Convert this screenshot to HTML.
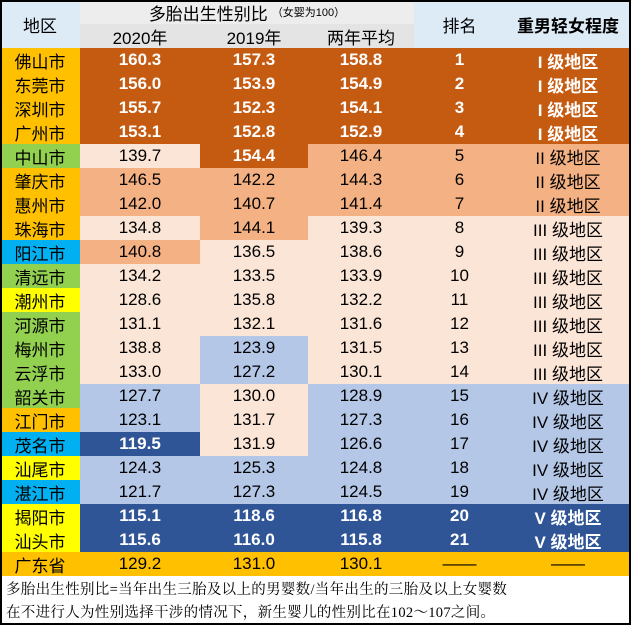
<!DOCTYPE html>
<html><head><meta charset="utf-8">
<style>
html,body{margin:0;padding:0;}
body{width:631px;height:625px;position:relative;overflow:hidden;background:#fff;font-family:"Liberation Sans","Noto Sans CJK SC",sans-serif;}
.c{position:absolute;display:flex;align-items:center;justify-content:center;font-size:17px;color:#000;box-sizing:border-box;white-space:nowrap;}
.w{color:#fff;font-weight:bold;}
#frame{position:absolute;left:0;top:0;width:631px;height:625px;border:2px solid #000;box-sizing:border-box;pointer-events:none;}
.foot{position:absolute;left:6px;font-family:"Liberation Serif","Noto Serif CJK SC",serif;font-size:14.5px;color:#000;white-space:nowrap;letter-spacing:0.3px;}
</style></head>
<body>
<div id="t"></div>
<div class="c" style="left:0;top:0;width:80px;height:48px;background:#DDEBF7">地区</div>
<div class="c" style="left:80px;top:0;width:334px;height:24px;background:#EDEDED">多胎出生性别比<span style="font-size:11px;margin-left:4px">（女婴为100）</span></div>
<div class="c" style="left:80px;top:24px;width:120px;height:24px;background:#E4E4E4">2020年</div>
<div class="c" style="left:200px;top:24px;width:108px;height:24px;background:#E4E4E4">2019年</div>
<div class="c" style="left:308px;top:24px;width:106px;height:24px;background:#E4E4E4">两年平均</div>
<div class="c" style="left:414px;top:0;width:91px;height:48px;background:#DDEBF7">排名</div>
<div class="c" style="left:505px;top:0;width:126px;height:48px;background:#DDEBF7;font-weight:bold">重男轻女程度</div>
<div class="foot" style="top:578px">多胎出生性别比=当年出生三胎及以上的男婴数/当年出生的三胎及以上女婴数</div>
<div class="foot" style="top:601px">在不进行人为性别选择干涉的情况下，新生婴儿的性别比在102～107之间。</div>
<div id="frame"></div>
<script>
const cities=["佛山市","东莞市","深圳市","广州市","中山市","肇庆市","惠州市","珠海市","阳江市","清远市","潮州市","河源市","梅州市","云浮市","韶关市","江门市","茂名市","汕尾市","湛江市","揭阳市","汕头市","广东省"];
const v2020=[160.3,156.0,155.7,153.1,139.7,146.5,142.0,134.8,140.8,134.2,128.6,131.1,138.8,133.0,127.7,123.1,119.5,124.3,121.7,115.1,115.6,129.2];
const v2019=[157.3,153.9,152.3,152.8,154.4,142.2,140.7,144.1,136.5,133.5,135.8,132.1,123.9,127.2,130.0,131.7,131.9,125.3,127.3,118.6,116.0,131.0];
const avg=[158.8,154.9,154.1,152.9,146.4,144.3,141.4,139.3,138.6,133.9,132.2,131.6,131.5,130.1,128.9,127.3,126.6,124.8,124.5,116.8,115.8,130.1];
const ranks=["1","2","3","4","5","6","7","8","9","10","11","12","13","14","15","16","17","18","19","20","21","——"];
const levels=["I","I","I","I","II","II","II","III","III","III","III","III","III","III","IV","IV","IV","IV","IV","V","V",""];
const cityColors=["o","o","o","o","g","o","o","o","c","g","y","g","g","g","g","o","c","y","c","y","y","o"];
const c2020=["D","D","D","D","L","M","M","L","M","L","L","L","L","L","B","B","K","B","B","K","K","o"];
const c2019=["D","D","D","D","D","M","M","M","L","L","L","L","B","B","L","L","L","B","B","K","K","o"];
const cRest=["D","D","D","D","M","M","M","L","L","L","L","L","L","L","B","B","B","B","B","K","K","o"];
const pal={o:"#FFC000",g:"#92D050",c:"#00B0F0",y:"#FFFF00",D:"#C55A11",M:"#F4B183",L:"#FBE5D6",B:"#B4C7E7",K:"#2F5597"};
const t=document.getElementById('t');
function cell(x,w,y,txt,col,name){
  const d=document.createElement('div');
  d.className='c'+((col==='D'||col==='K')?' w':'');
  d.style.cssText=`left:${x}px;top:${y}px;width:${w}px;height:24px;background:${pal[col]}`;
  d.textContent=txt;
  
  
  t.appendChild(d);
}
cities.forEach((c,i)=>{
  const y=48+i*24;
  cell(0,80,y,c,cityColors[i],'region-'+i);
  cell(80,120,y,v2020[i].toFixed(1),c2020[i],'value-2020-'+i);
  cell(200,108,y,v2019[i].toFixed(1),c2019[i],'value-2019-'+i);
  cell(308,106,y,avg[i].toFixed(1),cRest[i],'value-average-'+i);
  cell(414,91,y,ranks[i],cRest[i],'rank-'+i);
  cell(505,126,y,levels[i]?levels[i]+' 级地区':'——',cRest[i],'level-'+i);
});
</script>
</body></html>
